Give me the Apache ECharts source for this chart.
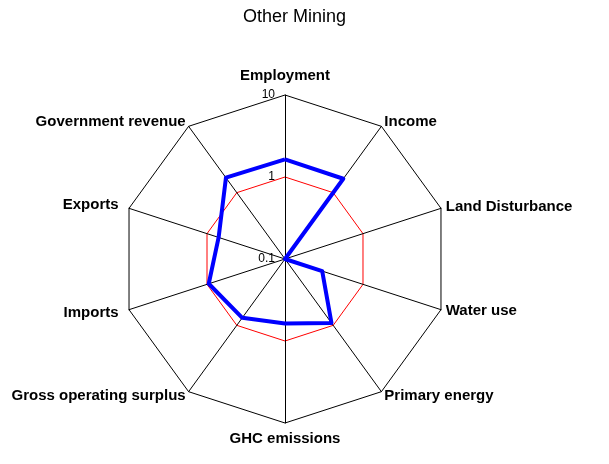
<!DOCTYPE html>
<html>
<head>
    <meta charset='utf-8'>
    <title>Other Mining</title>
    <script src='https://cdn.jsdelivr.net/npm/echarts@6/dist/echarts.min.js'></script>
    <style>
        html, body { margin: 0; padding: 0; background: #fff; }
        #main { width: 609px; height: 464px; }
    </style>
</head>
<body>
    <div id='main'></div>
    <script type='text/javascript'>
        // indicators, clockwise from the top
        var categories = ['Employment', 'Income', 'Land Disturbance', 'Water use', 'Primary energy',
            'GHC emissions', 'Gross operating surplus', 'Imports', 'Exports', 'Government revenue'];
        // values (0.1 .. 10)
        var values = [1.64, 1.62, 0.1, 0.30, 0.92, 0.61, 0.77, 0.95, 0.71, 1.68];
        var tickLabels = ['0.1', '1', '10'];

        // echarts radar runs counter-clockwise, so reorder: first, then the rest backwards
        var order = [0];
        for (var i = categories.length - 1; i > 0; i--) order.push(i);

        var indicator = order.map(function (k, j) {
            var ind = { name: categories[k], min: -1, max: 1 };
            if (j === 0) {
                ind.axisLabel = { show: true };
                ind.nameGap = 12;
            }
            if (k === 5) ind.nameGap = 8;
            if (k === 7 || k === 8) ind.nameGap = 11;
            return ind;
        });
        var logValues = order.map(function (k) { return Math.log10(values[k]); });

        var myChart = echarts.init(document.getElementById('main'));
        var option = {
            backgroundColor: '#fff',
            animation: false,
            title: {
                text: 'Other Mining',
                left: 238,
                top: 3,
                textStyle: { fontFamily: 'Liberation Sans', fontSize: 18, fontWeight: 'normal', color: '#000' }
            },
            radar: {
                center: [285, 259],
                radius: 164,
                shape: 'polygon',
                splitNumber: 2,
                indicator: indicator,
                nameGap: 5,
                axisName: { color: '#000', fontFamily: 'Liberation Sans', fontSize: 15, fontWeight: 'bold' },
                axisLine: { lineStyle: { color: '#000', width: 1 } },
                axisTick: { show: false },
                axisLabel: {
                    show: false,
                    color: '#000',
                    fontFamily: 'Liberation Sans',
                    fontSize: 12,
                    margin: 10,
                    formatter: function (v) { return tickLabels[Math.round(v) + 1]; }
                },
                splitLine: { lineStyle: { color: ['#000', '#ff0000', '#000'], width: 1 } },
                splitArea: { show: false }
            },
            series: [{
                type: 'radar',
                symbol: 'none',
                lineStyle: { color: '#0000ff', width: 4 },
                data: [{ value: logValues, name: 'Other Mining' }]
            }]
        };
        myChart.setOption(option);
    </script>
</body>
</html>
